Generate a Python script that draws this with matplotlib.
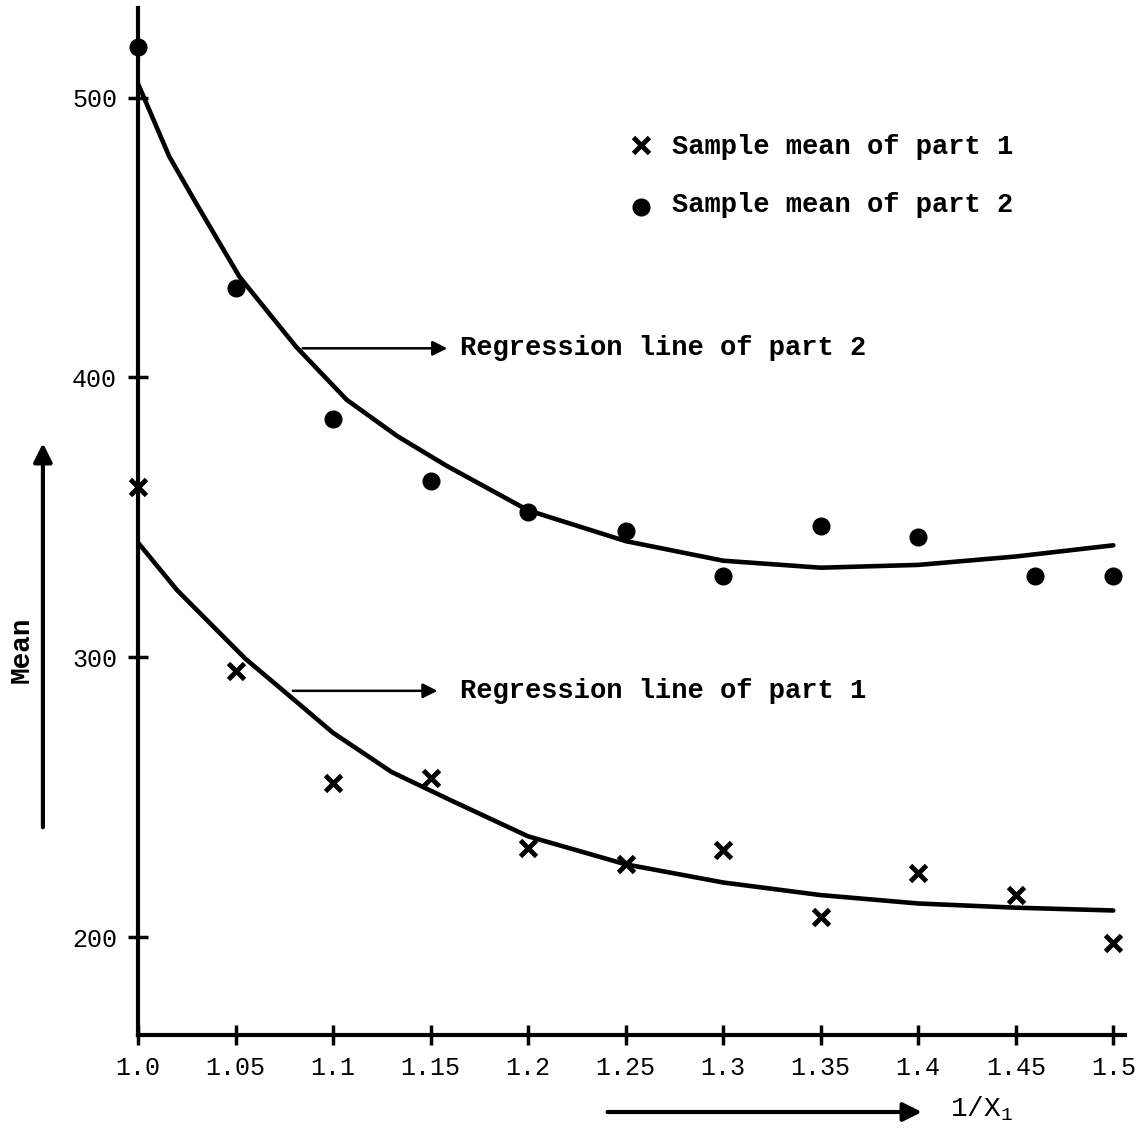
"""
Sample means of part 1 / part 2 against 1/X1, with hand-drawn regression lines.
"""
import matplotlib
matplotlib.use("Agg")
import matplotlib.pyplot as plt

plt.rcParams["font.family"] = ["Liberation Mono", "DejaVu Sans Mono"]
plt.rcParams["mathtext.fontset"] = "custom"
plt.rcParams["mathtext.rm"] = "Liberation Mono"
plt.rcParams["mathtext.it"] = "Liberation Mono"

# ---- data --------------------------------------------------------------------
x_part1 = [1.0, 1.05, 1.1, 1.15, 1.2, 1.25, 1.3, 1.35, 1.4, 1.45, 1.5]
mean_part1 = [361, 295, 255, 257, 232, 226, 231, 207, 223, 215, 198]

x_part2 = [1.0, 1.05, 1.1, 1.15, 1.2, 1.25, 1.3, 1.35, 1.4, 1.46, 1.5]
mean_part2 = [518, 432, 385, 363, 352, 345, 329, 347, 343, 329, 329]

# regression curves, traced point by point
x_fit1 = [1.0, 1.02, 1.04, 1.055, 1.078, 1.1, 1.13, 1.16, 1.2, 1.25,
          1.3, 1.35, 1.4, 1.45, 1.5]
fit_part1 = [341, 324, 310, 299.5, 286, 273, 259, 249, 236, 226,
             219.5, 215, 212, 210.5, 209.5]
x_fit2 = [1.0, 1.016, 1.03, 1.052, 1.081, 1.107, 1.133, 1.158, 1.2, 1.25,
          1.3, 1.35, 1.4, 1.45, 1.5]
fit_part2 = [505, 479, 462, 436, 411, 392, 379, 368.5, 352.5, 341.5,
             334.5, 332, 333, 336, 340]

x_ticks = [1.0, 1.05, 1.1, 1.15, 1.2, 1.25, 1.3, 1.35, 1.4, 1.45, 1.5]
x_tick_labels = ["1.0", "1.05", "1.1", "1.15", "1.2", "1.25", "1.3",
                 "1.35", "1.4", "1.45", "1.5"]
y_ticks = [200, 300, 400, 500]

fig = plt.figure(figsize=(11.44, 11.34), dpi=100)
ax = fig.add_axes([0.1206, 0.0873, 0.8628, 0.9056])

ax.plot(x_fit2, fit_part2, color="black", lw=3.3, solid_capstyle="round",
        solid_joinstyle="round")
ax.plot(x_fit1, fit_part1, color="black", lw=3.3, solid_capstyle="round",
        solid_joinstyle="round")
ax.plot(x_part1, mean_part1, "x", color="black", ms=12, mew=3.5, clip_on=False)
ax.plot(x_part2, mean_part2, "o", color="black", ms=12, clip_on=False)

ax.set_xlim(1.0, 1.506)
ax.set_ylim(165, 532)
ax.spines[["top", "right"]].set_visible(False)
for side in ["left", "bottom"]:
    ax.spines[side].set_linewidth(3)
ax.set_xticks(x_ticks, x_tick_labels)
ax.set_yticks(y_ticks)
ax.tick_params(direction="inout", length=14, width=2.5, labelsize=18, pad=8)

# ---- annotations ------------------------------------------------------------
arrow = dict(arrowstyle="-|>", color="black", lw=1.8, mutation_scale=22)
ax.annotate("", xy=(1.16, 410.4), xytext=(1.083, 410.4), arrowprops=arrow)
ax.text(1.165, 410.4, "Regression line of part 2", fontsize=19.5,
        fontweight="bold", va="center")
ax.annotate("", xy=(1.155, 288), xytext=(1.078, 288), arrowprops=arrow)
ax.text(1.165, 288, "Regression line of part 1", fontsize=19.5,
        fontweight="bold", va="center")

ax.plot([1.258], [483], "x", color="black", ms=12, mew=3.5)
ax.text(1.274, 482.5, "Sample mean of part 1", fontsize=19.5,
        fontweight="bold", va="center")
ax.plot([1.258], [461], "o", color="black", ms=12)
ax.text(1.274, 461.5, "Sample mean of part 2", fontsize=19.5,
        fontweight="bold", va="center")

big_arrow = dict(arrowstyle="-|>", color="black", lw=3, mutation_scale=28)
ax.annotate("", xy=(-0.0963, 0.579), xytext=(-0.0963, 0.1996),
            xycoords="axes fraction", arrowprops=big_arrow, annotation_clip=False)
ax.text(-0.1175, 0.375, "Mean", transform=ax.transAxes, rotation=90,
        fontsize=20, fontweight="bold", ha="center", va="center")
ax.annotate("", xy=(0.797, -0.075), xytext=(0.473, -0.075),
            xycoords="axes fraction", arrowprops=big_arrow, annotation_clip=False)
ax.text(0.823, -0.072, "1/X$_{1}$", transform=ax.transAxes, fontsize=20,
        ha="left", va="center")

fig.savefig("out.png", dpi=100)
